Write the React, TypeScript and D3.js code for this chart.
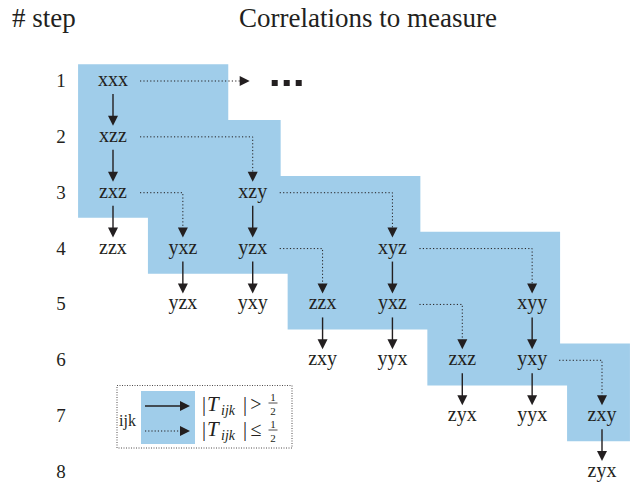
import React from "react";
import * as d3 from "d3";

const stepNumbers = [1, 2, 3, 4, 5, 6, 7, 8];

// [label, step, column]
const nodeList: [string, number, number][] = [
    ["xxx", 1, 0],
    ["xzz", 2, 0],
    ["zxz", 3, 0], ["xzy", 3, 2],
    ["zzx", 4, 0], ["yxz", 4, 1], ["yzx", 4, 2], ["xyz", 4, 4],
    ["yzx", 5, 1], ["yxy", 5, 2], ["zzx", 5, 3], ["yxz", 5, 4], ["xyy", 5, 6],
    ["zxy", 6, 3], ["yyx", 6, 4], ["zxz", 6, 5], ["yxy", 6, 6],
    ["zyx", 7, 5], ["yyx", 7, 6], ["zxy", 7, 7],
    ["zyx", 8, 7],
];

// solid arrows: [step, column] -> same column, next step
const solidEdges: [number, number][] = [
    [1, 0], [2, 0], [3, 0], [3, 2], [4, 1], [4, 2], [4, 4],
    [5, 3], [5, 4], [5, 6], [6, 5], [6, 6], [7, 7],
];

// dotted arrows: [step, fromColumn, toColumn] -> next step
const dottedEdges: [number, number, number][] = [
    [2, 0, 2], [3, 0, 1], [3, 2, 4], [4, 2, 3], [4, 4, 6], [5, 4, 5], [6, 6, 7],
];

// the "..." continuation of step 1
const continuationStep = 1;
const continuationCol = 2;

// shaded block, per step 1..7: first / last column covered
const shadeFirstCol = [0, 0, 0, 1, 3, 5, 7];
const shadeLastCol = [1.25, 2, 4, 6, 6, 7, 7];

const W = 639;
const H = 483;
const INK = "#231f20";
const BLUE = "#a0cdea";
const FONT = "'Liberation Serif', 'Times New Roman', serif";

const x = d3.scaleLinear().domain([0, 7]).range([113, 602]);
const y = d3.scaleLinear().domain([1, 8]).range([81, 472]);

function downHead(tx: number, ty: number): string {
    return `M${tx - 5},${ty - 10}L${tx + 5},${ty - 10}L${tx},${ty}Z`;
}

function rightHead(tx: number, ty: number): string {
    return `M${tx - 10},${ty - 5}L${tx - 10},${ty + 5}L${tx},${ty}Z`;
}

function shadePath(): string {
    const pts: [number, number][] = [];
    const n = shadeFirstCol.length;
    // right side going down
    for (let i = 0; i < n; i++) {
        const s = i + 1;
        const r = shadeLastCol[i] + 0.4;
        pts.push([r, s - 0.3]);
        pts.push([r, i === n - 1 ? s + 0.45 : s + 0.7]);
    }
    // left side going up
    for (let i = n - 1; i >= 0; i--) {
        const s = i + 1;
        const l = shadeFirstCol[i] - 0.5;
        pts.push([l, s + 0.45]);
        pts.push([l, i === 0 ? s - 0.3 : s - 0.55]);
    }
    const line = d3.line<[number, number]>().x(d => x(d[0])).y(d => y(d[1]));
    return line(pts) + "Z";
}

function LegendRow(props: {cy: number, dotted: boolean, rel: string, numDy: number, denDy: number}) {
    const {cy, dotted, rel, numDy, denDy} = props;
    return (
        <g>
            <line x1={145} x2={181} y1={cy} y2={cy} stroke={INK}
                  strokeWidth={dotted ? 1 : 1.4}
                  strokeDasharray={dotted ? "1.2 2" : undefined}/>
            <path d={rightHead(190, cy)} fill={INK}/>
            <g fontFamily={FONT} fill={INK}>
                <text x={202} y={cy + 5} fontSize={20}>|</text>
                <text x={207} y={cy + 5} fontSize={21} fontStyle="italic">T</text>
                <text x={221} y={cy + 9} fontSize={14} fontStyle="italic">ijk</text>
                <text x={243} y={cy + 5} fontSize={20}>|</text>
                <text x={256} y={cy + 5} fontSize={20} textAnchor="middle">{rel}</text>
                <text x={273} y={cy + numDy} fontSize={11} textAnchor="middle">1</text>
                <line x1={268.5} x2={277.5} y1={cy + numDy + 2} y2={cy + numDy + 2}
                      stroke={INK} strokeWidth={0.8}/>
                <text x={273} y={cy + denDy} fontSize={11} textAnchor="middle">2</text>
            </g>
        </g>
    );
}

export default function App() {
    const arrowGap = 13;
    const tipGap = 11;
    const contY = y(continuationStep);
    const contTip = x(continuationCol) - 3;

    return (
        <svg width={W} height={H} style={{position: "absolute", left: 0, top: 0, background: "#fff"}}>
            <path d={shadePath()} fill={BLUE}/>

            <g fontFamily={FONT} fill={INK}>
                <text x={12} y={27} fontSize={27}># step</text>
                <text x={368} y={27} fontSize={27} textAnchor="middle">Correlations to measure</text>
                {stepNumbers.map(s => (
                    <text key={s} x={61} y={y(s) + 6} fontSize={19} textAnchor="middle">{s}</text>
                ))}
                {nodeList.map(([label, s, c], i) => (
                    <text key={i} x={x(c)} y={y(s) + 5} fontSize={20} textAnchor="middle">{label}</text>
                ))}
            </g>

            {solidEdges.map(([s, c], i) => {
                const tip = y(s + 1) - tipGap;
                return (
                    <g key={i}>
                        <line x1={x(c)} x2={x(c)} y1={y(s) + arrowGap} y2={tip - 8}
                              stroke={INK} strokeWidth={1.4}/>
                        <path d={downHead(x(c), tip)} fill={INK}/>
                    </g>
                );
            })}

            {dottedEdges.map(([s, c0, c1], i) => {
                const tip = y(s + 1) - tipGap;
                return (
                    <g key={i}>
                        <path d={`M${x(c0) + 27},${y(s)}H${x(c1)}V${tip - 8}`} fill="none"
                              stroke={INK} strokeWidth={1} strokeDasharray="1.2 2.2"/>
                        <path d={downHead(x(c1), tip)} fill={INK}/>
                    </g>
                );
            })}

            <path d={`M${x(0) + 27},${contY}H${contTip - 8}`} stroke={INK} strokeWidth={1}
                  strokeDasharray="1.2 2.2" fill="none"/>
            <path d={rightHead(contTip, contY)} fill={INK}/>
            {[0, 1, 2].map(i => (
                <rect key={i} x={contTip + 22 + i * 12} y={contY - 1} width={6} height={6} fill={INK}/>
            ))}

            <rect x={117} y={385.5} width={175} height={62.5} fill="none" stroke={INK}
                  strokeWidth={0.8} strokeDasharray="1 1.5"/>
            <rect x={141} y={391} width={54} height={53} fill={BLUE}/>
            <text x={119} y={426} fontSize={16} fontFamily={FONT} fill={INK}>ijk</text>
            <LegendRow cy={406} dotted={false} rel=">" numDy={-5} denDy={9}/>
            <LegendRow cy={431} dotted={true} rel="≤" numDy={-3} denDy={11}/>
        </svg>
    );
}
